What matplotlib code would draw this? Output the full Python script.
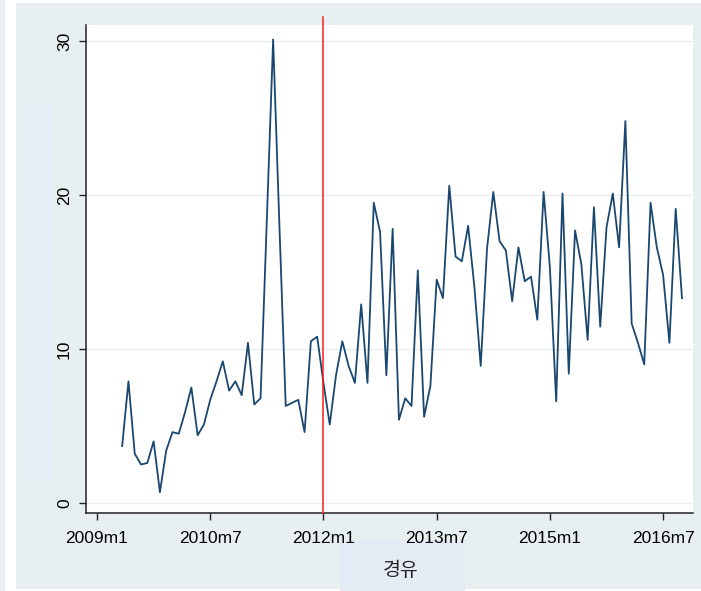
import matplotlib
matplotlib.use("Agg")
import matplotlib.pyplot as plt
import matplotlib.transforms as mtransforms
from matplotlib.patches import Rectangle

# monthly series, 2009m5 .. 2016m10 (month index counted from 2009m1 = 0)
start_month = 4
values = [3.7, 7.9, 3.2, 2.5, 2.6, 4.0, 0.7, 3.4, 4.6, 4.5,
          5.9, 7.5, 4.4, 5.1, 6.7, 7.9, 9.2, 7.3, 7.9, 7.0,
          10.4, 6.4, 6.8, 18.4, 30.1, 18.0, 6.3, 6.5, 6.7, 4.6,
          10.5, 10.8, 7.8, 5.1, 8.3, 10.5, 8.9, 7.8, 12.9, 7.8,
          19.5, 17.6, 8.3, 17.8, 5.4, 6.8, 6.3, 15.1, 5.6, 7.6,
          14.5, 13.3, 20.6, 16.0, 15.7, 18.0, 14.0, 8.9, 16.5, 20.2,
          17.0, 16.4, 13.1, 16.6, 14.4, 14.7, 11.9, 20.2, 15.3, 6.6,
          20.1, 8.4, 17.7, 15.5, 10.6, 19.2, 11.45, 17.9, 20.1, 16.6,
          24.8, 11.65, 10.4, 9.0, 19.5, 16.6, 14.8, 10.4, 19.1, 13.3]
months = list(range(start_month, start_month + len(values)))

tick_pos = [0, 18, 36, 54, 72, 90]
tick_labels = ["2009m1", "2010m7", "2012m1", "2013m7", "2015m1", "2016m7"]
y_ticks = [0, 10, 20, 30]
event_month = 36
x_title = "경유"

W, H = 701, 591
fig = plt.figure(figsize=(W / 100, H / 100), dpi=100, facecolor="white")

def px_rect(x0, y0, x1, y1, color):
    fig.patches.append(Rectangle((x0 / W, 1 - y1 / H), (x1 - x0) / W, (y1 - y0) / H,
                                 transform=fig.transFigure, facecolor=color,
                                 edgecolor="none", zorder=-10))

bg = "#e8eff1"
px_rect(0, 0, 5, H, "#eceff1")
px_rect(16, 3, W, 589, bg)
px_rect(18, 105, 52, 480, "#e6edf4")
px_rect(340, 540, 465, H, "#e4ebf4")

left, right, top, bottom = 86, 693, 25, 513
ax = fig.add_axes([left / W, 1 - bottom / H, (right - left) / W, (bottom - top) / H])
ax.set_facecolor("white")

ax.plot(months, values, color="#1a476f", lw=1.3, zorder=3)

trans = mtransforms.blended_transform_factory(ax.transData, ax.transAxes)
ax.plot([event_month, event_month], [0, (bottom - 17) / (bottom - top)], color="#ff1a1a",
        lw=1.1, transform=trans, clip_on=False, zorder=4)

ax.set_xlim(-1.75, 94.75)
ax.set_ylim(-0.65, 31.04)

ax.set_yticks(y_ticks)
ax.set_yticklabels([str(v) for v in y_ticks], rotation=90, va="center",
                   fontsize=12.5, family="Liberation Sans")
ax.set_xticks(tick_pos)
ax.set_xticklabels(tick_labels, fontsize=12.5, family="Liberation Sans")

ax.tick_params(axis="y", length=5, width=1.0, pad=5, color="#222222")
ax.tick_params(axis="x", length=5, width=1.0, pad=8, color="#222222")

ax.grid(axis="y", color="#e6eef0", lw=1.0, zorder=0)
ax.set_axisbelow(True)

for s in ["top", "right"]:
    ax.spines[s].set_visible(False)
for s in ["left", "bottom"]:
    ax.spines[s].set_color("#222222")
    ax.spines[s].set_linewidth(1.1)

fig.text(401 / W, 1 - 571 / H, x_title, ha="center", va="center",
         fontsize=14, family=["Noto Sans CJK KR", "DejaVu Sans"], color="#222222")

fig.savefig("out.png", dpi=100, facecolor=fig.get_facecolor())
